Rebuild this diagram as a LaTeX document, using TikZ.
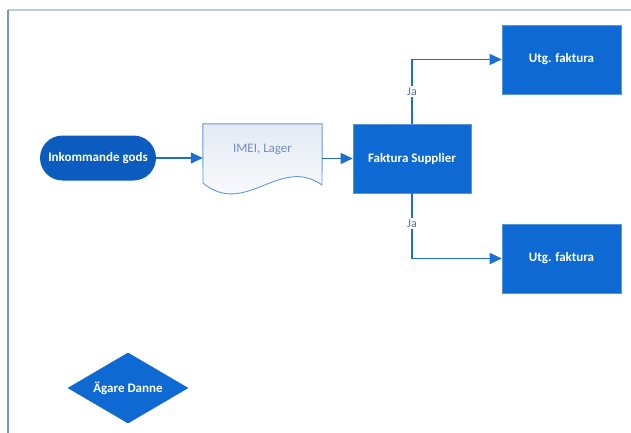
\documentclass[tikz,border=0pt]{standalone}
\usepackage{fontspec}
\setmainfont{Carlito}
\usepackage{xcolor}
\usetikzlibrary{arrows.meta,shapes.geometric,shapes.misc}
\definecolor{boxblue}{HTML}{0E69D2}
\definecolor{pillblue}{HTML}{0B5CBE}
\definecolor{lineblue}{HTML}{1C6FD2}
\definecolor{doctext}{HTML}{6E8FC2}
\definecolor{jatext}{HTML}{4F70A6}
\definecolor{frameleft}{HTML}{7096CC}
\definecolor{frametop}{HTML}{BCCBE0}
\definecolor{docshade}{HTML}{E4EAF4}
\tikzset{
box/.style={rectangle,fill=boxblue,draw=boxblue!70!white,line width=0.6pt,text=white,
 font=\bfseries\fontsize{13}{15}\selectfont,minimum width=118pt,minimum height=69pt,inner sep=2pt},
conn/.style={lineblue,line width=1.4pt,-{Triangle[length=12pt,width=11pt]}},
ja/.style={fill=white,text=jatext,font=\fontsize{12}{14}\selectfont,inner sep=1.5pt}
}
\begin{document}
\begin{tikzpicture}[x=1pt,y=-1pt]
\useasboundingbox (0,0) rectangle (631,433);
% ram
\draw[frametop,line width=1.6pt](8,10)--(631,10);
\draw[frameleft,line width=1.6pt](8,10)--(8,433);
% noder
\node[box,rounded rectangle,fill=pillblue,draw=none,minimum width=120pt,minimum height=45pt] (inko) at (98,158) {Inkommande gods};
\node[inner sep=0,minimum width=119pt,minimum height=60pt] (imei) at (262.5,154) {};
\draw[draw=lineblue!70!white,line width=0.9pt,top color=docshade,bottom color=white]
(imei.north west)--(imei.north east)--(322,185)
.. controls (280,155) and (245,218) .. (203,183)--cycle;
\node[text=doctext,font=\fontsize{13}{15}\selectfont] (imeitext) at (262.5,149) {IMEI, Lager};
\node[box] (fakt) at (412,158.5) {Faktura Supplier};
\node[box,minimum width=119pt] (utg1) at (561.5,59.5) {Utg. faktura};
\node[box,minimum width=119pt] (utg2) at (561.5,258.5) {Utg. faktura};
\node[box,diamond,draw=none,aspect=1.7,inner sep=0,minimum width=121pt,minimum height=71pt] (agare) at (128,388) {Ägare Danne};
% pilar
\draw[conn](inko.east)--(inko.east -| imei.west);
\draw[conn](imei.east |- fakt)--(fakt.west);
\draw[conn](fakt.north)|-(utg1.west)node[ja,pos=0.25]{Ja};
\draw[conn](fakt.south)|-(utg2.west)node[ja,pos=0.23]{Ja};
\end{tikzpicture}
\end{document}
